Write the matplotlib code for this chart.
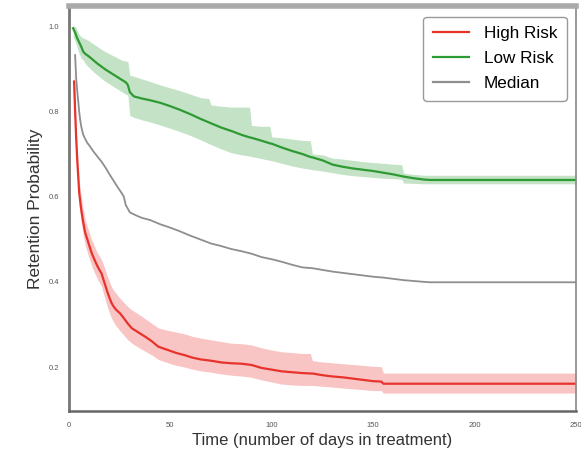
import matplotlib
matplotlib.use("Agg")
import matplotlib.pyplot as plt

plt.rcParams['font.family'] = ['Liberation Sans', 'DejaVu Sans']

# ============================================================
# 数据（从图中读取的生存曲线及置信区间）
# ============================================================
high_t = [2.5, 3, 3.5, 4, 4.5, 5, 5.5, 6, 7, 8, 9, 10, 11, 12, 13, 14, 15, 16, 17, 18,
          19, 20, 21, 22, 23, 24, 25, 27, 29, 31, 33, 35, 38, 41, 44, 47, 50, 53, 57, 61,
          65, 70, 75, 80, 85, 90, 95, 100, 105, 110, 115, 119, 120, 125, 130, 135, 140,
          145, 150, 154, 155, 250]
high_s = [0.87, 0.80, 0.74, 0.69, 0.65, 0.61, 0.59, 0.57, 0.54, 0.515, 0.50, 0.485, 0.47,
          0.458, 0.447, 0.437, 0.428, 0.42, 0.405, 0.39, 0.375, 0.362, 0.35, 0.342, 0.336,
          0.331, 0.327, 0.315, 0.302, 0.291, 0.285, 0.279, 0.27, 0.26, 0.248, 0.243, 0.238,
          0.233, 0.228, 0.222, 0.218, 0.215, 0.211, 0.209, 0.208, 0.205, 0.198, 0.194, 0.19,
          0.188, 0.186, 0.185, 0.185, 0.181, 0.178, 0.176, 0.173, 0.17, 0.167, 0.166,
          0.161, 0.161]
high_hi = [0.90, 0.83, 0.77, 0.72, 0.68, 0.64, 0.62, 0.60, 0.57, 0.545, 0.53, 0.515, 0.50,
           0.49, 0.478, 0.468, 0.46, 0.452, 0.44, 0.426, 0.412, 0.40, 0.388, 0.38, 0.374,
           0.368, 0.362, 0.352, 0.342, 0.334, 0.328, 0.322, 0.312, 0.302, 0.292, 0.288,
           0.285, 0.282, 0.278, 0.272, 0.268, 0.264, 0.26, 0.256, 0.255, 0.252, 0.245,
           0.24, 0.236, 0.234, 0.232, 0.232, 0.215, 0.212, 0.21, 0.208, 0.206, 0.204,
           0.202, 0.201, 0.186, 0.186]
high_lo = [0.84, 0.77, 0.71, 0.66, 0.62, 0.58, 0.56, 0.54, 0.51, 0.485, 0.47, 0.455, 0.44,
           0.428, 0.417, 0.407, 0.398, 0.39, 0.372, 0.356, 0.34, 0.326, 0.314, 0.306, 0.298,
           0.292, 0.286, 0.275, 0.264, 0.256, 0.25, 0.244, 0.236, 0.228, 0.218, 0.213,
           0.208, 0.204, 0.2, 0.195, 0.191, 0.188, 0.184, 0.181, 0.179, 0.176, 0.17, 0.165,
           0.16, 0.158, 0.157, 0.157, 0.157, 0.155, 0.153, 0.151, 0.149, 0.147, 0.145,
           0.145, 0.139, 0.139]

low_t = [2, 3, 4, 5, 6, 7, 8, 10, 12, 14, 16, 18, 20, 22, 24, 26, 28, 29, 30, 32, 36, 40,
         45, 50, 55, 60, 65, 69, 70, 75, 80, 85, 89, 90, 95, 99, 100, 105, 110, 115, 119,
         120, 125, 130, 135, 140, 145, 150, 155, 160, 164, 165, 170, 175, 178, 250]
low_s = [0.995, 0.985, 0.972, 0.962, 0.952, 0.94, 0.935, 0.928, 0.92, 0.912, 0.905, 0.898,
         0.892, 0.886, 0.88, 0.874, 0.868, 0.862, 0.845, 0.835, 0.83, 0.826, 0.82, 0.812,
         0.803, 0.793, 0.782, 0.774, 0.772, 0.762, 0.754, 0.745, 0.739, 0.738, 0.731,
         0.725, 0.724, 0.715, 0.707, 0.70, 0.693, 0.692, 0.685, 0.675, 0.67, 0.666, 0.663,
         0.66, 0.656, 0.652, 0.648, 0.647, 0.643, 0.64, 0.639, 0.639]
low_hi = [1.0, 1.0, 0.99, 0.98, 0.975, 0.972, 0.97, 0.965, 0.958, 0.952, 0.945, 0.94,
          0.935, 0.93, 0.925, 0.92, 0.918, 0.917, 0.885, 0.882, 0.876, 0.87, 0.862, 0.855,
          0.848, 0.84, 0.832, 0.83, 0.815, 0.812, 0.81, 0.81, 0.81, 0.767, 0.765, 0.765,
          0.74, 0.738, 0.735, 0.732, 0.731, 0.70, 0.698, 0.69, 0.688, 0.685, 0.682, 0.68,
          0.678, 0.676, 0.675, 0.655, 0.652, 0.65, 0.65, 0.65]
low_lo = [0.975, 0.965, 0.95, 0.935, 0.925, 0.92, 0.912, 0.902, 0.893, 0.885, 0.877, 0.87,
          0.864, 0.858, 0.852, 0.846, 0.84, 0.838, 0.79, 0.786, 0.78, 0.775, 0.768, 0.76,
          0.752, 0.743, 0.733, 0.724, 0.722, 0.712, 0.703, 0.698, 0.695, 0.694, 0.689,
          0.685, 0.684, 0.678, 0.672, 0.667, 0.664, 0.663, 0.66, 0.656, 0.652, 0.649,
          0.647, 0.645, 0.643, 0.642, 0.641, 0.632, 0.631, 0.63, 0.63, 0.63]

med_t = [3, 3.5, 4, 4.5, 5, 5.5, 6, 7, 8, 9, 10, 12, 14, 16, 18, 20, 22, 24, 26, 27, 28,
         30, 33, 36, 40, 45, 50, 55, 60, 65, 70, 75, 80, 85, 90, 95, 100, 105, 110, 115,
         120, 125, 130, 135, 140, 145, 150, 155, 160, 165, 170, 175, 178, 250]
med_s = [0.932, 0.88, 0.85, 0.826, 0.80, 0.78, 0.765, 0.745, 0.735, 0.726, 0.72, 0.706,
         0.694, 0.682, 0.668, 0.652, 0.637, 0.622, 0.608, 0.60, 0.58, 0.563, 0.556, 0.55,
         0.545, 0.535, 0.527, 0.518, 0.508, 0.499, 0.49, 0.484, 0.477, 0.472, 0.466, 0.458,
         0.453, 0.447, 0.44, 0.434, 0.432, 0.428, 0.424, 0.421, 0.418, 0.415, 0.412, 0.41,
         0.407, 0.404, 0.402, 0.40, 0.399, 0.399]

x_ticks = [0, 50, 100, 150, 200, 250]
y_ticks = [0.2, 0.4, 0.6, 0.8, 1.0]

RED = "#e8322c"
GREEN = "#2e9a33"
GRAY = "#8e8e8e"

# ============================================================
# 绘图
# ============================================================
fig = plt.figure(figsize=(5.81, 4.53), dpi=100)
ax = fig.add_axes([0.1188, 0.0927, 0.8726, 0.893])

ax.fill_between(high_t, high_lo, high_hi, color=RED, alpha=0.28, lw=0)
ax.fill_between(low_t, low_lo, low_hi, color=GREEN, alpha=0.28, lw=0)

ax.plot(high_t, high_s, color=RED, lw=1.6, label="High Risk")
ax.plot(low_t, low_s, color=GREEN, lw=1.6, label="Low Risk")
ax.plot(med_t, med_s, color=GRAY, lw=1.3, label="Median")

ax.set_xlim(0, 250)
ax.set_ylim(0.097, 1.046)
ax.set_xticks(x_ticks)
ax.set_yticks(y_ticks)
ax.tick_params(length=0, labelsize=5.5, labelcolor="#555555")
ax.tick_params(axis="x", pad=8)
ax.tick_params(axis="y", pad=7)

ax.set_xlabel("Time (number of days in treatment)", fontsize=12, color="#333333", labelpad=3)
ax.set_ylabel("Retention Probability", fontsize=12.5, color="#333333", labelpad=4)

ax.spines["left"].set_color("#777777")
ax.spines["left"].set_linewidth(2)
ax.spines["bottom"].set_color("#666666")
ax.spines["bottom"].set_linewidth(1.8)
ax.spines["top"].set_color("#aaaaaa")
ax.spines["top"].set_linewidth(4)
ax.spines["right"].set_color("#888888")
ax.spines["right"].set_linewidth(1.2)

leg = ax.legend(loc="upper right", bbox_to_anchor=(0.982, 0.974), borderaxespad=0,
                fontsize=12.3, handlelength=2.1, handletextpad=0.9, labelspacing=0.58,
                borderpad=0.55, framealpha=1, edgecolor="#999999")
for line in leg.get_lines():
    line.set_linewidth(1.6)

fig.savefig("out.png", dpi=100)
